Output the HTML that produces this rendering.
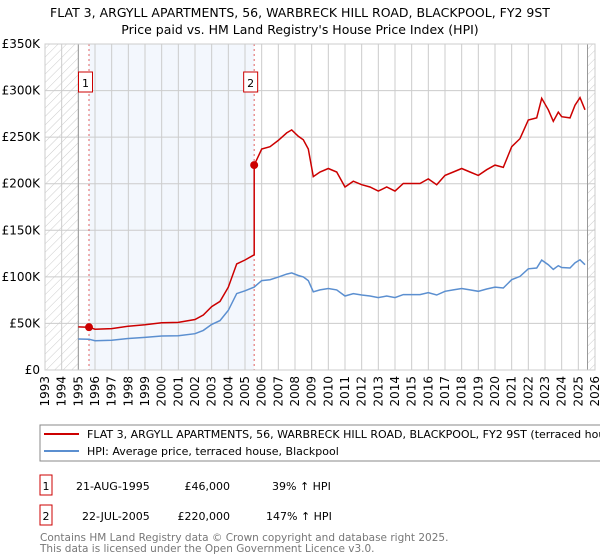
<!DOCTYPE html>
<html><head><meta charset="utf-8"><style>
body{margin:0;width:600px;height:560px;background:#fff;font-family:"DejaVu Sans","Liberation Sans",sans-serif;overflow:hidden}
svg{display:block}
</style></head><body>
<svg id="c" width="600" height="560">
<defs><pattern id="hatch" width="6" height="6" patternUnits="userSpaceOnUse" patternTransform="rotate(45)"><line x1="0" y1="0" x2="0" y2="6" stroke="#ccc" stroke-width="1"/></pattern></defs>
<text x="300" y="17" text-anchor="middle" font-size="12.5" fill="#000">FLAT 3, ARGYLL APARTMENTS, 56, WARBRECK HILL ROAD, BLACKPOOL, FY2 9ST</text>
<text x="300" y="34" text-anchor="middle" font-size="12.5" fill="#000">Price paid vs. HM Land Registry's House Price Index (HPI)</text>
<g id="plot"></g>
<rect x="40" y="425" width="570" height="36" fill="none" stroke="#888"/>
<line x1="44" y1="434" x2="79" y2="434" stroke="#cc0000" stroke-width="2"/>
<text x="87" y="438" font-size="11">FLAT 3, ARGYLL APARTMENTS, 56, WARBRECK HILL ROAD, BLACKPOOL, FY2 9ST (terraced house)</text>
<line x1="44" y1="451" x2="79" y2="451" stroke="#5b8fd0" stroke-width="2"/>
<text x="87" y="455" font-size="11">HPI: Average price, terraced house, Blackpool</text>
<rect x="40" y="475" width="12" height="20" fill="#fff" stroke="#cc0000"/>
<text x="46" y="490" font-size="11" text-anchor="middle">1</text>
<text x="76" y="490" font-size="11">21-AUG-1995</text>
<text x="230" y="490" font-size="11" text-anchor="end">£46,000</text>
<text x="272" y="490" font-size="11">39% ↑ HPI</text>
<rect x="40" y="505" width="12" height="20" fill="#fff" stroke="#cc0000"/>
<text x="46" y="520" font-size="11" text-anchor="middle">2</text>
<text x="82" y="520" font-size="11">22-JUL-2005</text>
<text x="230" y="520" font-size="11" text-anchor="end">£220,000</text>
<text x="266" y="520" font-size="11">147% ↑ HPI</text>
<text x="40" y="541" font-size="10.5" fill="#777">Contains HM Land Registry data © Crown copyright and database right 2025.</text>
<text x="40" y="552" font-size="10.5" fill="#777">This data is licensed under the Open Government Licence v3.0.</text>
</svg>
<script>
const hpiYears=[1995.0,1995.64,1996,1997,1998,1999,2000,2001,2002,2002.5,2003,2003.5,2004,2004.5,2005,2005.55,2006,2006.5,2007,2007.5,2007.8,2008.2,2008.5,2008.8,2009.1,2009.5,2010,2010.5,2011,2011.5,2012,2012.5,2013,2013.5,2014,2014.5,2015,2015.5,2016,2016.5,2017,2017.5,2018,2018.5,2019,2019.5,2020,2020.5,2021,2021.5,2022,2022.5,2022.8,2023.2,2023.5,2023.8,2024,2024.5,2024.8,2025.1,2025.4];
const hpiValues=[33.3,33.1,31.5,32,33.8,35,36.5,36.8,39,42.5,49,53,64,82,85,89,96,97,99.7,103,104.3,101.5,100,96,84,86,87.5,86,79.5,82,80.5,79.5,77.7,79.5,77.7,81,81,81,83,80.5,84.5,86,87.5,86,84.5,87,89,88,97,100.5,108.6,109.5,118,113,108,112,110,109.5,115,118.3,113];
const saleYears=[1995.64,2005.55];
const salePrices=[46,220];
const yTicks=[0,50,100,150,200,250,300,350];
const yTickLabels=["£0","£50K","£100K","£150K","£200K","£250K","£300K","£350K"];
const xTicks=[1993,1994,1995,1996,1997,1998,1999,2000,2001,2002,2003,2004,2005,2006,2007,2008,2009,2010,2011,2012,2013,2014,2015,2016,2017,2018,2019,2020,2021,2022,2023,2024,2025,2026];

const X0=45,X1=595,Y0=370,Y1=44;
const xs=y=>X0+(y-1993)/(2026-1993)*(X1-X0);
const ys=v=>Y0-v/350*(Y0-Y1);
const NS="http://www.w3.org/2000/svg";
const g=document.getElementById('plot');
function mk(t,a,name){const e=document.createElementNS(NS,t);for(const k in a)e.setAttribute(k,a[k]);


g.appendChild(e);return e;}
mk('rect',{x:xs(saleYears[0]),y:Y1,width:xs(saleYears[1])-xs(saleYears[0]),height:Y0-Y1,fill:'#eef3fc',opacity:0.7},'ownership-shade');
mk('rect',{x:X0,y:Y1,width:xs(1995)-X0,height:Y0-Y1,fill:'url(#hatch)'},'hatch-left');
mk('rect',{x:xs(2025.55),y:Y1,width:X1-xs(2025.55),height:Y0-Y1,fill:'url(#hatch)'},'hatch-right');
xTicks.forEach(t=>{mk('line',{x1:xs(t),x2:xs(t),y1:Y1,y2:Y0,stroke:'#ccc','stroke-width':1},'x-gridline');
const tx=mk('text',{x:0,y:0,'font-size':12,'text-anchor':'end',transform:`translate(${xs(t)+4},${Y0+6}) rotate(-90)`},'x-tick-label');tx.textContent=t;});
yTicks.forEach((t,i)=>{mk('line',{x1:X0,x2:X1,y1:ys(t),y2:ys(t),stroke:'#ccc','stroke-width':1},'y-gridline');
const tx=mk('text',{x:X0-5,y:ys(t)+4,'font-size':12,'text-anchor':'end'},'y-tick-label');tx.textContent=yTickLabels[i];});
mk('line',{x1:xs(1995),x2:xs(1995),y1:Y1,y2:Y0,stroke:'#999'},'data-start-line');
mk('line',{x1:xs(2025.55),x2:xs(2025.55),y1:Y1,y2:Y0,stroke:'#999'},'data-end-line');
function hpiAt(y){for(let i=0;i<hpiYears.length-1;i++){if(y<=hpiYears[i+1]){const f=(y-hpiYears[i])/(hpiYears[i+1]-hpiYears[i]);return hpiValues[i]+f*(hpiValues[i+1]-hpiValues[i]);}}return hpiValues[hpiValues.length-1];}
let bp='',rp='';
hpiYears.forEach((y,i)=>{bp+=(i?'L':'M')+xs(y).toFixed(1)+','+ys(hpiValues[i]).toFixed(1);});
const r1=salePrices[0]/hpiAt(saleYears[0]),r2=salePrices[1]/hpiAt(saleYears[1]);
let first=true;
hpiYears.forEach((y,i)=>{if(y>=saleYears[1])return;rp+=(first?'M':'L')+xs(y).toFixed(1)+','+ys(hpiValues[i]*r1).toFixed(1);first=false;});
rp+='L'+xs(saleYears[1]).toFixed(1)+','+ys(hpiAt(saleYears[1])*r1).toFixed(1);
hpiYears.forEach((y,i)=>{if(y<saleYears[1])return;rp+='L'+xs(y).toFixed(1)+','+ys(hpiValues[i]*r2).toFixed(1);});
saleYears.forEach((s,i)=>{mk('line',{x1:xs(s),x2:xs(s),y1:Y1,y2:Y0,stroke:'#e06060','stroke-dasharray':'2,3'},'sale-vline');
mk('rect',{x:xs(s)-10.5,y:72,width:14,height:20,fill:'#fff',stroke:'#cc0000'},'sale-marker-box');
const t=mk('text',{x:xs(s)-3.5,y:87,'font-size':11,'text-anchor':'middle'},'sale-marker-label');t.textContent=i+1;});
mk('path',{d:bp,fill:'none',stroke:'#5b8fd0','stroke-width':1.5},'hpi-line');
mk('path',{d:rp,fill:'none',stroke:'#cc0000','stroke-width':1.5},'price-line');
saleYears.forEach((s,i)=>{mk('circle',{cx:xs(s),cy:ys(salePrices[i]),r:4,fill:'#cc0000'},'sale-point');});
mk('rect',{x:X0,y:Y1,width:X1-X0,height:Y0-Y1,fill:'none',stroke:'#ccc'},'plot-frame');
</script>
</body></html>
